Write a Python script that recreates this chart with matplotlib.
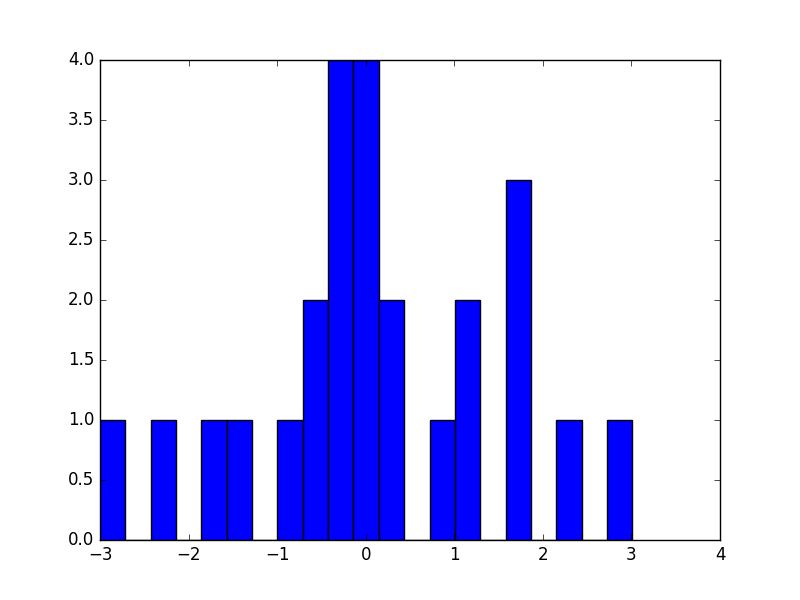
import numpy as np
import matplotlib
matplotlib.use("Agg")
import matplotlib.pyplot as plt

# histogram: 21 equal bins between about -3 and 3.01
bin_lo = -3.0
bin_hi = 3.01
counts = [1, 0, 1, 0, 1, 1, 0, 1, 2, 4, 4, 2, 0, 1, 2, 0, 3, 0, 1, 0, 1]

plt.style.use("classic")

edges = np.linspace(bin_lo, bin_hi, len(counts) + 1)

fig, ax = plt.subplots(figsize=(8, 6))
ax.hist(edges[:-1], bins=edges, weights=counts, color="b", edgecolor="k")
ax.set_xlim(-3, 4)
ax.set_ylim(0, 4)

fig.savefig("out.png", dpi=100)
